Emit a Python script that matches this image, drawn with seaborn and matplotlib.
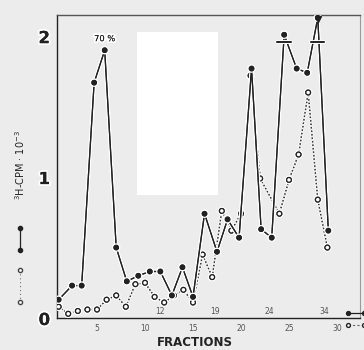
import numpy as np
import pandas as pd
import matplotlib
matplotlib.use("Agg")
import matplotlib.pyplot as plt
import matplotlib.patheffects as pe
from matplotlib.lines import Line2D
from matplotlib.patches import Rectangle
import seaborn as sns

# 3H counts (CPM x 10^-3) per fraction
bound_fraction = [1.0, 2.4, 3.4, 4.7, 5.8, 7.0, 8.1, 9.3, 10.5, 11.6, 12.8, 13.9, 15.0,
                  16.2, 17.5, 18.6, 19.8, 21.1, 22.1, 23.2, 24.5, 25.8, 26.9, 28.0, 29.1]
bound_cpm = [0.13, 0.23, 0.23, 1.67, 1.90, 0.50, 0.26, 0.30, 0.33, 0.33, 0.16, 0.36, 0.15,
             0.74, 0.47, 0.70, 0.57, 1.77, 0.63, 0.57, 2.01, 1.77, 1.74, 2.13, 0.62]

free_fraction = [1, 2, 3, 4, 5, 6, 7, 8, 9, 10, 11, 12, 13, 14, 15, 16, 17, 18, 19, 20,
                 21, 22, 24, 25, 26, 27, 28, 29]
free_cpm = [0.08, 0.03, 0.05, 0.06, 0.06, 0.13, 0.16, 0.08, 0.24, 0.25, 0.15, 0.11, 0.16,
            0.20, 0.11, 0.45, 0.29, 0.76, 0.62, 0.74, 1.72, 0.99, 0.74, 0.98, 1.16, 1.60,
            0.84, 0.50]

x_ticks = [5, 10, 15, 20, 25, 30]
x_tick_labels = ["5", "10", "15", "20", "25", "30"]
upper_tick_pos = [11.6, 17.3, 23.0, 28.7]
upper_tick_labels = ["12", "19", "24", "34"]
y_ticks = [0, 1, 2]
y_tick_labels = ["0", "1", "2"]
peak_label = "70 %"
cap_level = 1.96

sns.set_style("white")
plt.rcParams["font.family"] = ["DejaVu Sans"]

bg = "#ececec"
ink = "#222222"
halo = [pe.withStroke(linewidth=2.8, foreground="white")]

fig = plt.figure(figsize=(3.64, 3.50), dpi=100, facecolor=bg)
ax = fig.add_axes([57 / 364, 32 / 350, 303 / 364, 303 / 350])
ax.set_facecolor(bg)

# blank panel region
ax.add_patch(Rectangle((9.2, 0.87), 8.4, 1.16, facecolor="white", edgecolor="none", zorder=0.5))

df_bound = pd.DataFrame({"fraction": bound_fraction, "cpm": bound_cpm})
df_free = pd.DataFrame({"fraction": free_fraction, "cpm": free_cpm})

sns.lineplot(data=df_free, x="fraction", y="cpm", ax=ax, color="#333333",
             linestyle=(0, (1, 1.8)), linewidth=0.9, marker="o", markersize=3.4,
             markerfacecolor="white", markeredgecolor=ink, markeredgewidth=0.9, zorder=3)
sns.lineplot(data=df_bound, x="fraction", y="cpm", ax=ax, color=ink, linewidth=0.9,
             marker="o", markersize=3.3, markerfacecolor=ink, markeredgecolor=ink, zorder=4)
for ln in ax.lines:
    ln.set_path_effects(halo + [pe.Normal()])

# caps on the off-scale peaks
for fx, fy in zip(bound_fraction, bound_cpm):
    if fy >= 2.0:
        ax.plot([fx - 0.7, fx + 0.7], [cap_level, cap_level], color=ink, lw=1.2,
                path_effects=halo + [pe.Normal()], zorder=5)
        if fy > 2.1:
            ax.plot([fx], [2.12], marker="v", color=ink, ms=4.5, zorder=6)

ax.text(bound_fraction[4], 1.95, peak_label, ha="center", va="bottom", fontsize=6,
        color=ink, path_effects=halo + [pe.Normal()])

ax.set_xlim(0.83, 32.4)
ax.set_ylim(0, 2.15)
ax.set_xticks(x_ticks)
ax.set_xticklabels(x_tick_labels, fontsize=5.5, color="#555555")
ax.set_yticks(y_ticks)
ax.set_yticklabels(y_tick_labels, fontsize=12, fontweight="bold", color=ink)
ax.tick_params(axis="x", length=2, width=0.8, pad=2, color=ink)
ax.tick_params(axis="y", length=4, width=0.9, pad=1, color=ink)
for lbl in ax.get_yticklabels():
    lbl.set_path_effects(halo + [pe.Normal()])
for px, lab in zip(upper_tick_pos, upper_tick_labels):
    ax.text(px, 0.015, lab, ha="center", va="bottom", fontsize=5.5, color="#555555")
ax.set_xlabel("")
ax.set_ylabel("")

for side in ["left", "bottom", "top", "right"]:
    ax.spines[side].set_color(ink)
    ax.spines[side].set_linewidth(1.0)
ax.spines["right"].set_color("#9a9a9a")
ax.spines["right"].set_linewidth(0.8)
ax.spines["top"].set_color("#555555")

fig.text(195 / 364, 1 - 343 / 350, "FRACTIONS", ha="center", va="center", fontsize=8.5,
         fontweight="bold", color=ink)
fig.text(20 / 364, 1 - 165 / 350, "$^3$H-CPM · 10$^{-3}$", rotation=90, ha="center",
         va="center", fontsize=7, color=ink)

# legend glyphs beside the axis title
fig.add_artist(Line2D([20 / 364, 20 / 364], [1 - 228 / 350, 1 - 250 / 350], color=ink, lw=0.9,
                      marker="o", ms=3, mfc=ink, mec=ink))
fig.add_artist(Line2D([20 / 364, 20 / 364], [1 - 270 / 350, 1 - 302 / 350], color="#777777",
                      lw=0.8, linestyle=(0, (1, 2.5)), marker="o", ms=3, mfc="white", mec="#444444"))
fig.add_artist(Line2D([348 / 364, 364 / 364], [1 - 313 / 350, 1 - 313 / 350], color=ink, lw=0.9,
                      marker="o", ms=2.8, mfc=ink, mec=ink))
fig.add_artist(Line2D([348 / 364, 364 / 364], [1 - 325 / 350, 1 - 325 / 350], color="#666666",
                      lw=0.8, linestyle=(0, (2, 2)), marker="o", ms=2.8, mfc="white", mec=ink))

fig.savefig("out.png", dpi=100, facecolor=bg)
